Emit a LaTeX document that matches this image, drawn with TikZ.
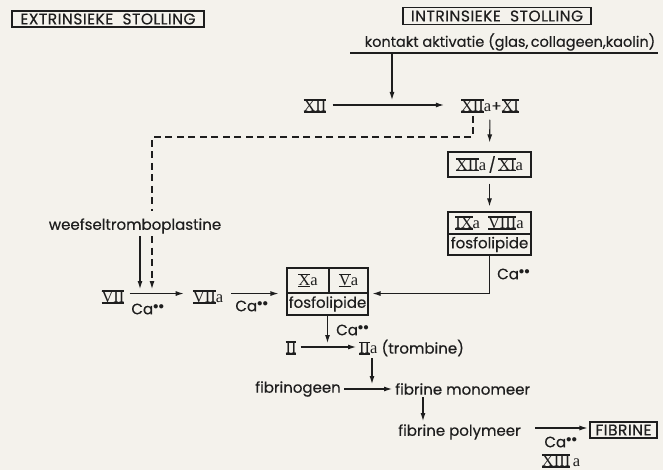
\documentclass[tikz,border=0pt]{standalone}
\usepackage{fontspec}
\setmainfont{Poppins}[FakeBold=0.4]
\newfontfamily\numfont{Liberation Serif}
\usetikzlibrary{arrows.meta}
\definecolor{paper}{RGB}{244,242,236}
\definecolor{ink}{RGB}{30,30,30}
\newcommand{\rn}[1]{\begingroup\setbox0\hbox{\numfont\fontsize{16.5}{18}\selectfont #1}\leavevmode\rlap{\rule[-1.2pt]{\wd0}{1.4pt}}\rlap{\rule[\dimexpr\ht0-0.3pt\relax]{\wd0}{1.4pt}}\box0\endgroup}
\newcommand{\sa}{{\numfont\fontsize{16.5}{18}\selectfont a}}
\newcommand{\ca}{Ca\ensuremath{^{\bullet\bullet}}}
\begin{document}
\begin{tikzpicture}[x=1pt,y=-1pt,
  font=\fontsize{15}{17}\selectfont,
  txt/.style={inner sep=1pt, text=ink},
  num/.style={inner sep=1pt, text=ink},
  titlebox/.style={draw=ink, line width=1.1pt, inner sep=0pt, text=ink, font=\fontsize{15.5}{17}\selectfont\addfontfeature{LetterSpace=3}},
  cell/.style={draw=ink, line width=1.1pt, inner sep=0pt, text=ink},
  ln/.style={draw=ink, line width=1.1pt},
  arr/.style={draw=ink, line width=1.1pt, -{Latex[length=8pt,width=5pt]}},
  darr/.style={draw=ink, line width=1.1pt, dash pattern=on 7pt off 4.5pt}
  ]
\fill[paper] (0,0) rectangle (663,470);
\useasboundingbox (0,0) rectangle (663,470);

% titles
\node[titlebox, minimum width=192pt, minimum height=16pt] (ext) at (108,19) {EXTRINSIEKE\ \ STOLLING};
\node[titlebox, minimum width=188pt, minimum height=17pt] (int) at (497,16) {INTRINSIEKE\ \ STOLLING};
\node[txt, font=\fontsize{14.5}{16}\selectfont] (kon) at (510,42) {kontakt aktivatie (glas,\,collageen,kaolin)};
\coordinate (kl) at (350,53);
\coordinate (kr) at (658,53);
\draw[ln] (kl) -- (kr);
\coordinate (ka) at (392,53);
\coordinate (kb) at (392,100);

% XII row
\node[num] (xii) at (315,106) {\rn{XII}};
\node[num] (xiia) at (490,106) {\rn{XII}\sa{}+\rn{XI}};
\draw[arr, shorten <=5pt, shorten >=16pt] ([yshift=1pt]xii.east) -- ([yshift=1pt]xiia.west);
\draw[arr] (ka) -- (kb);

% intrinsic cascade
\node[cell, minimum width=83pt, minimum height=25pt] (xiiaxia) at (489.5,164.5) {\rn{XII}\sa\,/\,\rn{XI}\sa};
\node[cell, minimum width=83pt, minimum height=22pt] (ix) at (489.5,223) {\rn{IX}\sa\ \ \rn{VIII}\sa};
\node[cell, minimum width=83pt, minimum height=21pt] (fos2) at (489.5,244.5) {fosfolipide};
\draw[arr, shorten <=6pt, shorten >=9pt] (xiia.south) -- (xiiaxia.north);
\draw[arr, shorten <=6pt, shorten >=5pt] (xiiaxia.south) -- (ix.north);

% dashed path
\coordinate (d1) at (473,116);
\coordinate (d2) at (473,137);
\coordinate (d3) at (152,137);
\coordinate (d4) at (152,211);
\draw[darr] (d1) -- (d2) -- (d3) -- (d4);

% extrinsic
\node[txt] (weef) at (135,226) {weefseltromboplastine};
\coordinate (s1) at (140,236);
\coordinate (s2) at (140,289);
\coordinate (t1) at (152,236);
\coordinate (t2) at (152,289);
\draw[arr] (s1) -- (s2);
\draw[darr, -{Latex[length=8pt,width=5pt]}] (t1) -- (t2);

% Xa Va box
\node[cell, minimum width=42pt, minimum height=25pt] (xa) at (308,280.5) {\rn{X}\sa};
\node[cell, minimum width=39pt, minimum height=25pt] (va) at (348.5,280.5) {\rn{V}\sa};
\node[cell, minimum width=81pt, minimum height=22pt] (fos1) at (327.5,304) {fosfolipide};

\node[num] (vii) at (113,297) {\rn{VII}};
\node[num] (viia) at (208,297) {\rn{VII}\sa};
\node[txt] (ca1) at (148,309) {\ca};
\node[txt] (ca2) at (252,306) {\ca};
\draw[arr, shorten <=4pt, shorten >=8pt] (vii.east |- xa.south west) -- (viia.west |- xa.south west);
\draw[arr, shorten <=7pt, shorten >=8pt] (viia.east |- xa.south west) -- (xa.south west);

% right return
\draw[arr, shorten >=4pt] (fos2.south) |- (va.south east);
\node[txt, anchor=west] (ca3) at (496,274) {\ca};

% thrombin
\node[num] (ii) at (291,348) {\rn{II}};
\node[num, anchor=west] (iia) at (358,348) {\rn{II}\sa{} (trombine)};
\draw[arr, shorten <=3pt, shorten >=2pt] ([yshift=1pt]ii.east) -- ([yshift=1pt]iia.west);
\draw[arr, shorten >=5pt] (fos1.south) -- (fos1.south |- ii.center);
\node[txt, anchor=west] (ca4) at (335,330) {\ca};

% fibrin
\coordinate (f1) at (372,358);
\coordinate (f2) at (372,384);
\draw[arr] (f1) -- (f2);
\node[txt] (fgn) at (298,389) {fibrinogeen};
\node[txt, anchor=west] (fm) at (394,389) {fibrine\ monomeer};
\draw[arr, shorten <=2pt, shorten >=2pt] (fgn.east) -- (fm.west);
\coordinate (g1) at (423,397);
\coordinate (g2) at (423,421);
\draw[arr] (g1) -- (g2);
\node[txt, anchor=west] (fp) at (397,432) {fibrine\ polymeer};
\node[titlebox, minimum width=67pt, minimum height=16pt] (fib) at (623.5,430) {FIBRINE};
\coordinate (h1) at (535,428);
\draw[arr, shorten >=2pt] (h1) -- (fib.west |- h1);
\node[txt, inner sep=0pt] (ca5) at (561,442) {\ca};
\node[num, inner sep=0pt] (xiiia) at (561,461) {\rn{XIII}\,\sa};
\end{tikzpicture}
\end{document}
